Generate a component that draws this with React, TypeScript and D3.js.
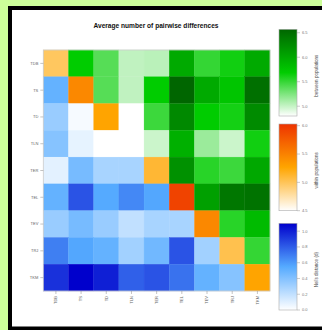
import React from 'react';
import * as d3 from 'd3';

// populations, same order on both axes
const pops = ['TDB', 'TS', 'TD', 'TLN', 'TER', 'TEL', 'TEV', 'TRJ', 'TKM'];

// upper triangle: average pairwise differences between populations (row i, cols i+1..)
const betweenRows = [
  [5.69, 5.39, 5.02, 5.04, 5.98, 5.51, 5.63, 5.98],
  [5.39, 5.02, 5.69, 6.57, 5.98, 5.75, 6.48],
  [4.8, 5.48, 6.27, 5.69, 5.62, 6.25],
  [4.98, 5.93, 5.15, 4.98, 5.63],
  [6.2, 5.55, 5.48, 6.0],
  [6.07, 6.42, 6.46],
  [5.55, 5.84],
  [5.51],
];

// diagonal: within population differences
const withinValues = [4.98, 5.46, 5.27, 4.5, 5.11, 5.92, 5.46, 5.03, 5.27];

// lower triangle: Nei's distance (row i, cols 0..i-1)
const neiRows = [
  [],
  [0.5],
  [0.33, 0.03],
  [0.39, 0.08, 0.0],
  [0.09, 0.44, 0.28, 0.28],
  [0.5, 0.83, 0.55, 0.66, 0.56],
  [0.33, 0.44, 0.33, 0.2, 0.28, 0.28],
  [0.69, 0.56, 0.5, 0.3, 0.46, 0.83, 0.3],
  [0.94, 1.1, 1.0, 0.79, 0.83, 0.73, 0.5, 0.39],
];

const betweenTicks = [5.0, 5.5, 6.0, 6.5];
const withinTicks = [4.5, 5.0, 5.5, 6.0];
const neiTicks = [0.0, 0.2, 0.4, 0.6, 0.8, 1.0];

const greenColor = d3.scaleLinear<string>().domain([4.8, 5.69, 6.57]).range(['#ffffff', '#00cc00', '#006600']);
const orangeColor = d3.scaleLinear<string>().domain([4.5, 5.265, 6.03]).range(['#ffffff', '#ffa500', '#ee3300']);
const blueColor = d3.scaleLinear<string>().domain([0, 0.55, 1.1]).range(['#ffffff', '#55aaff', '#0000cc']);

const font = 'Liberation Sans, Arial, sans-serif';

const Legend = ({ top, bottom, scale, ticks, title, fmt, id }) => {
  const x0 = 279;
  const w = 18;
  const [lo, hi] = [scale.domain()[0], scale.domain()[scale.domain().length - 1]];
  const y = d3.scaleLinear().domain([lo, hi]).range([bottom, top]);
  const stops = d3.range(0, 1.0001, 0.1);
  return (
    <g>
      <defs>
        <linearGradient id={id} x1="0" y1="1" x2="0" y2="0">
          {stops.map(s => (
            <stop key={s} offset={s} stopColor={scale(lo + s * (hi - lo))} />
          ))}
        </linearGradient>
      </defs>
      <rect x={x0} y={top} width={w} height={bottom - top} fill={`url(#${id})`} stroke="#aaa" strokeWidth={0.6} />
      {ticks.map(t => (
        <g key={t} transform={`translate(${x0 + w},${y(t)})`}>
          <line x1={0} x2={3} stroke="#999" strokeWidth={0.5} />
          <text x={5} dy="0.35em" fontSize={4} fill="#777" fontFamily={font}>{fmt(t)}</text>
        </g>
      ))}
      <text
        transform={`translate(316,${(top + bottom) / 2 + 3}) rotate(-90)`}
        textAnchor="middle"
        dy="0.35em"
        fontSize={4.6}
        fill="#444"
        fontFamily={font}
      >
        {title}
      </text>
    </g>
  );
};

const App = () => {
  const x = d3.scaleBand().domain(pops).range([43.3, 270]);
  const y = d3.scaleBand().domain(pops).range([50, 291]);

  const cells = [];
  pops.forEach((r, i) => {
    pops.forEach((c, j) => {
      let fill;
      if (i === j) fill = orangeColor(withinValues[i]);
      else if (j > i) fill = greenColor(betweenRows[i][j - i - 1]);
      else fill = blueColor(neiRows[i][j]);
      cells.push({ key: `${r}-${c}`, x: x(c), y: y(r), fill });
    });
  });

  return (
    <svg width={322} height={330} style={{ position: 'absolute', left: 0, top: 0 }}>
      <rect width={322} height={330} fill="#ccff99" />
      <rect x={8} y={6} width={320} height={330} fill="#000" />
      <rect x={12} y={10} width={316} height={316.5} fill="#fff" />

      <text x={156} y={28} textAnchor="middle" fontSize={6.6} fontWeight="bold" fill="#111" fontFamily={font}>
        Average number of pairwise differences
      </text>

      {cells.map(d => (
        <rect key={d.key} x={d.x} y={d.y} width={x.bandwidth()} height={y.bandwidth()} fill={d.fill} stroke={d.fill} strokeWidth={0.3} />
      ))}
      <rect x={43.3} y={50} width={270 - 43.3} height={241} fill="none" stroke="#ccc" strokeWidth={0.8} />

      {pops.map(p => (
        <g key={`r-${p}`} transform={`translate(43.3,${y(p) + y.bandwidth() / 2})`}>
          <line x1={-3} x2={0} stroke="#888" strokeWidth={0.5} />
          <text x={-5} dy="0.35em" textAnchor="end" fontSize={4} fill="#666" fontFamily={font}>{p}</text>
        </g>
      ))}
      {pops.map(p => (
        <g key={`c-${p}`} transform={`translate(${x(p) + x.bandwidth() / 2},291)`}>
          <line y1={0} y2={3} stroke="#888" strokeWidth={0.5} />
          <text transform="translate(0,5) rotate(-90)" dy="0.35em" textAnchor="end" fontSize={4} fill="#666" fontFamily={font}>{p}</text>
        </g>
      ))}

      <Legend id="gg" top={29.3} bottom={116} scale={greenColor} ticks={betweenTicks} title="between populations" fmt={d3.format('.1f')} />
      <Legend id="og" top={124} bottom={210.7} scale={orangeColor} ticks={withinTicks} title="within populations" fmt={d3.format('.1f')} />
      <Legend id="bg" top={223.3} bottom={310} scale={blueColor} ticks={neiTicks} title="Nei's distance (d)" fmt={d3.format('.1f')} />
    </svg>
  );
};

export default App;
